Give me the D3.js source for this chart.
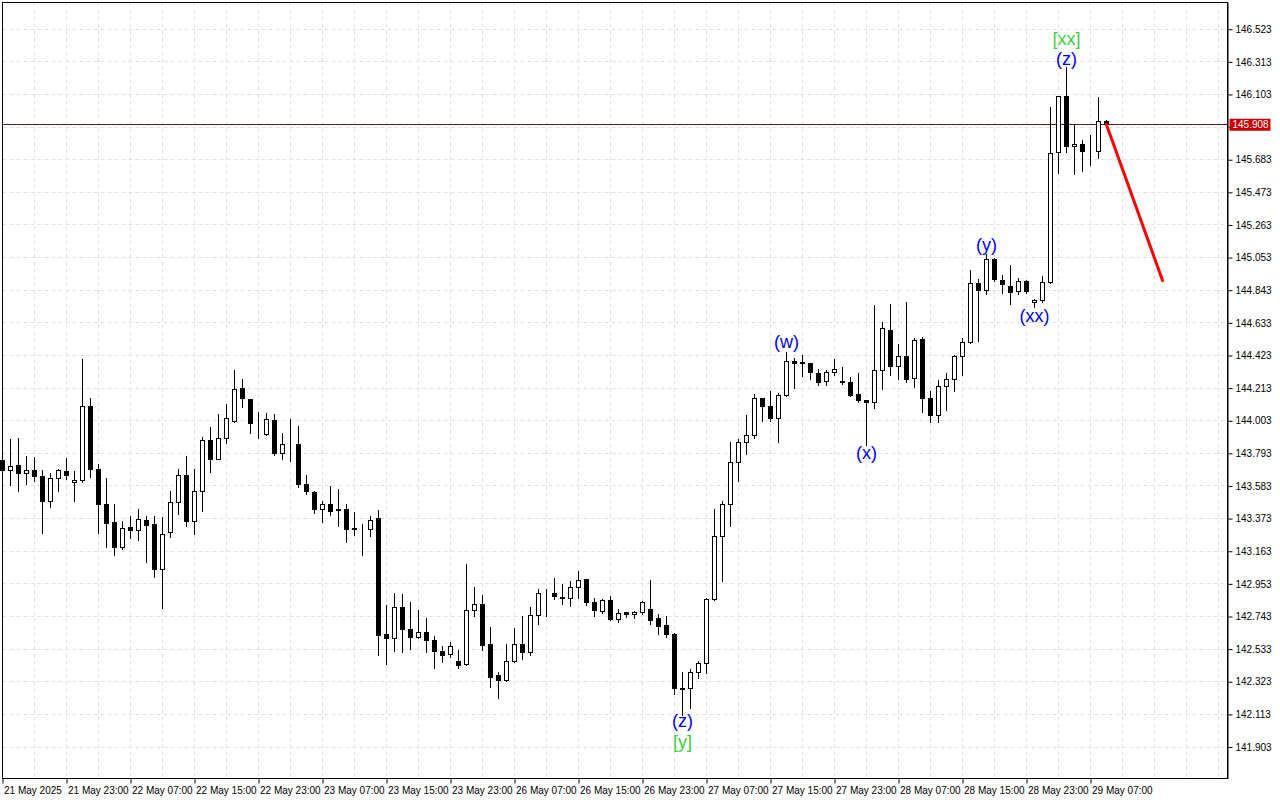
<!DOCTYPE html>
<html><head><meta charset="utf-8">
<script src="https://cdn.jsdelivr.net/npm/d3@7"></script>
<style>body{margin:0;background:#fff;overflow:hidden}svg{display:block}</style>
</head><body>
<svg id="c" width="1280" height="800"></svg>
<script>
// ---- data (H1 candles, 21 May 15:00 .. 29 May 09:00) ----
const openP = [
143.750,143.681,143.716,143.664,143.683,143.647,143.482,143.632,143.679,143.604,
143.619,144.095,143.692,143.467,143.345,143.186,143.317,143.296,143.362,143.332,
143.044,143.281,143.478,143.650,143.353,143.548,143.877,143.754,143.890,144.001,
144.212,144.140,143.988,143.917,144.007,143.795,143.849,143.849,143.595,143.541,
143.431,143.465,143.431,143.429,143.308,143.308,143.304,143.371,142.628,142.600,
142.802,142.660,142.609,142.641,142.590,142.519,142.500,142.455,142.436,142.783,
142.821,142.565,142.362,142.334,142.455,142.565,142.512,142.751,142.894,142.888,
142.868,142.860,142.931,142.978,142.834,142.774,142.847,142.725,142.768,142.757,
142.770,142.789,142.732,142.682,142.630,142.278,142.278,142.384,142.442,142.853,
143.259,143.465,143.732,143.864,143.906,144.143,144.095,144.015,144.166,144.387,
144.378,144.370,144.306,144.254,144.316,144.256,144.248,144.169,144.136,144.123,
144.329,144.585,144.351,144.416,144.274,144.527,144.147,144.035,144.225,144.270,
144.416,144.508,144.888,144.843,145.042,144.907,144.869,144.837,144.901,144.761,
144.778,144.895,145.730,146.091,145.767,145.782,145.735,145.735,145.930];
const highP = [
143.769,143.885,143.891,143.776,143.769,143.686,143.664,143.692,143.761,143.679,
144.398,144.147,143.722,143.634,143.467,143.358,143.390,143.433,143.392,143.392,
143.384,143.550,143.692,143.776,143.692,143.896,143.960,144.046,144.110,144.330,
144.272,144.140,144.057,144.051,144.046,143.922,144.014,143.968,143.653,143.552,
143.487,143.585,143.565,143.465,143.414,143.339,143.390,143.429,142.817,142.894,
142.886,142.834,142.785,142.733,142.617,142.552,142.577,142.527,143.081,142.933,
142.881,142.675,142.388,142.567,142.669,142.745,142.804,142.921,142.919,142.990,
142.952,142.971,143.034,142.982,142.862,142.856,142.873,142.791,142.774,142.778,
142.841,142.978,142.758,142.748,142.637,142.386,142.405,142.459,142.859,143.435,
143.487,143.866,143.883,144.039,144.177,144.146,144.192,144.184,144.445,144.408,
144.427,144.373,144.338,144.329,144.402,144.351,144.282,144.307,144.139,144.748,
144.637,144.756,144.500,144.765,144.534,144.540,144.196,144.265,144.308,144.424,
144.534,144.972,144.914,145.074,145.049,144.940,145.004,144.921,144.907,144.785,
144.933,146.020,146.094,146.278,145.905,145.810,145.842,146.085,145.939];
const lowP = [
143.666,143.589,143.552,143.595,143.617,143.281,143.450,143.552,143.629,143.488,
143.608,143.642,143.283,143.192,143.137,143.176,143.250,143.236,143.096,142.999,
142.798,143.256,143.405,143.327,143.272,143.424,143.674,143.754,143.858,143.996,
144.089,143.924,143.894,143.909,143.785,143.756,143.745,143.578,143.533,143.411,
143.353,143.396,143.327,143.225,143.269,143.139,143.261,142.497,142.440,142.523,
142.516,142.536,142.604,142.516,142.412,142.450,142.484,142.412,142.431,142.748,
142.530,142.291,142.220,142.328,142.450,142.469,142.497,142.695,142.748,142.856,
142.825,142.812,142.864,142.819,142.744,142.764,142.720,142.709,142.742,142.736,
142.757,142.695,142.633,142.613,142.245,142.109,142.156,142.349,142.381,142.849,
142.974,143.327,143.617,143.789,143.894,143.999,144.001,143.868,144.162,144.216,
144.289,144.273,144.230,144.233,144.295,144.241,144.162,144.123,143.846,144.085,
144.205,144.298,144.271,144.252,144.219,144.061,143.996,143.996,144.074,144.192,
144.295,144.503,144.514,144.817,144.901,144.824,144.752,144.818,144.824,144.733,
144.769,144.888,145.595,145.731,145.593,145.612,145.651,145.692,145.900];
const closeP = [
143.681,143.709,143.664,143.683,143.642,143.482,143.634,143.683,143.648,143.619,
144.095,143.687,143.463,143.340,143.186,143.311,143.295,143.369,143.328,143.044,
143.272,143.478,143.650,143.353,143.548,143.877,143.754,143.890,144.018,144.205,
144.144,143.988,143.986,144.012,143.795,143.849,143.847,143.591,143.545,143.431,
143.465,143.418,143.427,143.304,143.306,143.310,143.362,142.619,142.600,142.802,
142.660,142.606,142.641,142.587,142.516,142.491,142.552,142.426,142.783,142.821,
142.556,142.353,142.334,142.455,142.565,142.510,142.750,142.894,142.892,142.870,
142.858,142.931,142.973,142.832,142.780,142.847,142.725,142.764,142.755,142.770,
142.834,142.716,142.678,142.628,142.278,142.276,142.384,142.442,142.853,143.259,
143.465,143.732,143.864,143.906,144.143,144.093,144.015,144.166,144.381,144.374,
144.370,144.312,144.252,144.316,144.331,144.248,144.166,144.132,144.123,144.329,
144.598,144.349,144.416,144.268,144.521,144.147,144.035,144.225,144.270,144.416,
144.508,144.888,144.843,145.042,144.914,144.882,144.830,144.901,144.837,144.778,
144.895,145.726,146.091,145.767,145.782,145.735,145.737,145.930,145.908];

const priceTicks = [146.523,146.313,146.103,145.893,145.683,145.473,145.263,145.053,144.843,144.633,
  144.423,144.213,144.003,143.793,143.583,143.373,143.163,142.953,142.743,142.533,142.323,142.113,141.903];
const hiddenTick = 145.893; // label covered by current-price marker
const timeTickBars = [0,8,16,24,32,40,48,56,64,72,80,88,96,104,112,120,128,136];
const timeTickLabels = ["21 May 2025","21 May 23:00","22 May 07:00","22 May 15:00","22 May 23:00",
  "23 May 07:00","23 May 15:00","23 May 23:00","26 May 07:00","26 May 15:00","26 May 23:00",
  "27 May 07:00","27 May 15:00","27 May 23:00","28 May 07:00","28 May 15:00","28 May 23:00","29 May 07:00"];
const lastPrice = 145.908;
const projBars = [138,145];
const projPrices = [145.908,144.907];
const waveText  = ["(w)","(x)","(y)","(xx)","(z)","[xx]","(z)","[y]"];
const waveBar   = [98,108,123,129,133,133,85,85];
const wavePrice = [144.504,143.795,145.128,144.671,146.331,146.454,142.064,141.929];
const waveColor = ["blue","blue","blue","blue","blue","green","blue","green"];

// ---- drawing ----
const svg = d3.select("#c");
const L = 2.5, T = 2.5, R = 1227.5, B = 778.5;
const x = d3.scaleLinear().domain([0,153]).range([2.5, 2.5+153*8]);
const y = d3.scaleLinear().domain([141.903,146.523]).range([747,29.2]);
const colorMap = {blue:"#0000ff", green:"#3ccf3c"};
const axisFont = "'Liberation Sans',Arial,sans-serif";
const snap = v => Math.round(v - 0.5) + 0.5;

svg.append("rect").attr("width",1280).attr("height",800).attr("fill","#fff");

// grid
const grid = svg.append("g").attr("stroke","#e2e2e2").attr("stroke-dasharray","4,3").attr("stroke-width",1);
grid.selectAll("line.h").data(priceTicks).join("line").attr("class","h")
  .attr("x1",L).attr("x2",R).attr("y1",d=>snap(y(d))).attr("y2",d=>snap(y(d)));
grid.selectAll("line.v").data(d3.range(4,153,4)).join("line").attr("class","v")
  .attr("y1",T).attr("y2",B).attr("x1",d=>x(d)).attr("x2",d=>x(d));

// last price line
svg.append("line").attr("x1",L).attr("x2",R).attr("y1",snap(y(lastPrice))).attr("y2",snap(y(lastPrice)))
  .attr("stroke","#5a1a1a").attr("stroke-width",1);

// candles
const bars = d3.range(openP.length).map(i=>({i,o:openP[i],h:highP[i],l:lowP[i],c:closeP[i]}));
const cg = svg.append("g");
cg.selectAll("line.w").data(bars).join("line").attr("class","w")
  .attr("x1",d=>x(d.i)).attr("x2",d=>x(d.i))
  .attr("y1",d=>Math.round(y(d.h))).attr("y2",d=>Math.round(y(d.l))+1)
  .attr("stroke","#000").attr("stroke-width",1);
cg.selectAll("rect.b").data(bars).join("rect").attr("class","b")
  .attr("x",d=>x(d.i)-2).attr("width",4)
  .attr("y",d=>snap(y(Math.max(d.o,d.c))))
  .attr("height",d=>Math.max(0, snap(y(Math.min(d.o,d.c))) - snap(y(Math.max(d.o,d.c)))))
  .attr("fill",d=>d.c>=d.o?"#fff":"#000").attr("stroke","#000").attr("stroke-width",1);

// projection line
svg.append("line")
  .attr("x1",x(projBars[0])).attr("y1",y(projPrices[0]))
  .attr("x2",x(projBars[1])).attr("y2",y(projPrices[1]))
  .attr("stroke","#ff0000").attr("stroke-width",3).attr("stroke-linecap","square");

// wave labels
svg.append("g").selectAll("text").data(waveText).join("text")
  .attr("x",(d,i)=>x(waveBar[i])).attr("y",(d,i)=>y(wavePrice[i])+5.5)
  .attr("text-anchor","middle").attr("font-family","'Liberation Sans',Arial,sans-serif")
  .attr("font-size",18).attr("fill",(d,i)=>colorMap[waveColor[i]]).text(d=>d);

// frame
svg.append("rect").attr("x",L).attr("y",T).attr("width",R-L).attr("height",B-T)
  .attr("fill","none").attr("stroke","#000").attr("stroke-width",1);
svg.append("line").attr("x1",R+0.5).attr("x2",R+0.5).attr("y1",T).attr("y2",B+0.5)
  .attr("stroke","#000").attr("stroke-width",1);

// right price axis
const ya = d3.axisRight(y).tickValues(priceTicks).tickSize(4).tickPadding(3)
  .tickFormat(d=> d===hiddenTick ? "" : d3.format(".3f")(d));
const yg = svg.append("g").attr("transform",`translate(${R+1},0)`).call(ya);
yg.select(".domain").remove();
yg.selectAll(".tick line").attr("stroke","#000");
yg.selectAll("text").attr("font-family",axisFont).attr("font-size",10).attr("fill","#000");

// bottom time axis
const xa = d3.axisBottom(x).tickValues(timeTickBars).tickSize(5).tickPadding(3)
  .tickFormat((d,i)=>timeTickLabels[i]);
const xg = svg.append("g").attr("transform",`translate(0,${B})`).call(xa);
xg.select(".domain").remove();
xg.selectAll(".tick line").attr("stroke","#000");
xg.selectAll("text").attr("text-anchor","start").attr("dx",1)
  .attr("font-family",axisFont).attr("font-size",10).attr("fill","#000");

// current price marker
const lp = svg.append("g").attr("transform",`translate(${R+2},${y(lastPrice)})`);
lp.append("rect").attr("x",0).attr("y",-6).attr("width",41).attr("height",12).attr("fill","#cc0000");
lp.append("text").attr("x",3).attr("y",3.5).attr("font-family",axisFont).attr("font-size",10)
  .attr("fill","#fff").text(d3.format(".3f")(lastPrice));
</script>
</body></html>
